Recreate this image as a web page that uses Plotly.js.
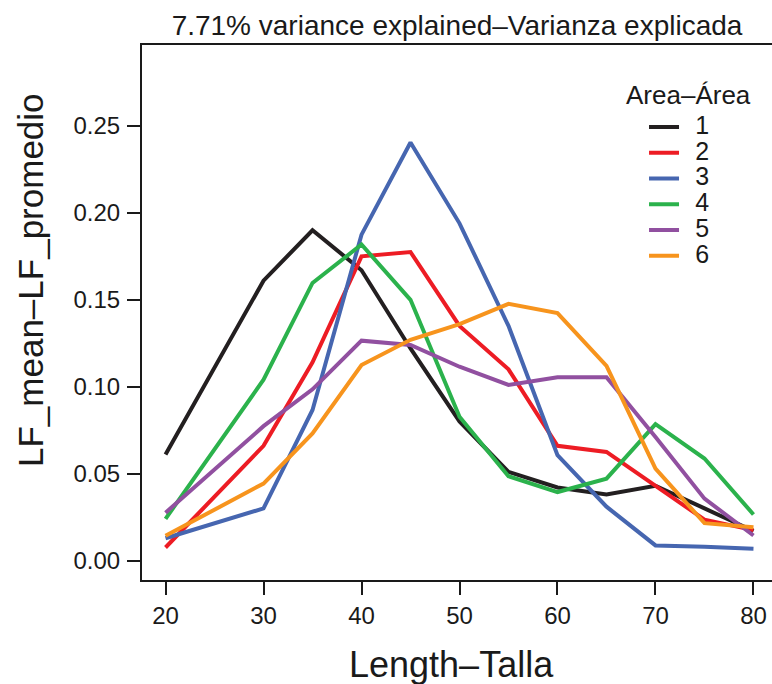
<!DOCTYPE html>
<html>
<head>
<meta charset="utf-8">
<script src="https://cdn.plot.ly/plotly-3.0.1.min.js"></script>
<style>
html, body { margin: 0; padding: 0; overflow: hidden; background: #ffffff; }
#chart { width: 780px; height: 684px; }
</style>
</head>
<body>
<div id="chart"></div>
<script>
var lengths = [20, 30, 35, 40, 45, 50, 55, 60, 65, 70, 75, 80];
var area1 = [0.061, 0.161, 0.190, 0.167, 0.122, 0.080, 0.051, 0.042, 0.038, 0.043, 0.030, 0.017];
var area2 = [0.0075, 0.066, 0.114, 0.175, 0.1775, 0.135, 0.110, 0.066, 0.0625, 0.043, 0.0235, 0.0175];
var area3 = [0.0128, 0.030, 0.0866, 0.1875, 0.2405, 0.194, 0.135, 0.0606, 0.031, 0.0087, 0.008, 0.0068];
var area4 = [0.024, 0.104, 0.1597, 0.1818, 0.150, 0.0827, 0.0485, 0.0394, 0.0471, 0.0785, 0.0587, 0.0265];
var area5 = [0.0275, 0.0773, 0.0985, 0.1265, 0.124, 0.1115, 0.101, 0.1054, 0.1054, 0.0711, 0.0356, 0.0144];
var area6 = [0.0142, 0.0443, 0.0731, 0.1125, 0.127, 0.136, 0.1477, 0.1424, 0.112, 0.0529, 0.0215, 0.0192];
var areaNames = ["1", "2", "3", "4", "5", "6"];
var areaColors = ["#231f20", "#ed1c24", "#4666b0", "#2bb24c", "#9150a0", "#f7941d"];
var seriesList = [area1, area2, area3, area4, area5, area6];

var yTickVals = [0, 0.05, 0.10, 0.15, 0.20, 0.25];
var yTickText = ["0.00", "0.05", "0.10", "0.15", "0.20", "0.25"];
var xTickVals = [20, 30, 40, 50, 60, 70, 80];

var titleText = "7.71% variance explained\u2013Varianza explicada";
var xTitle = "Length\u2013Talla";
var yTitle = "LF_mean\u2013LF_promedio";
var legendTitle = "Area\u2013\u00c1rea";

var FONT = "Liberation Sans, Arial, Helvetica, sans-serif";
var INK = "#1a1a1a";

var traces = seriesList.map(function (vals, i) {
  return {
    x: lengths,
    y: vals,
    type: "scatter",
    mode: "lines",
    name: '<span style="font-size:20px">\u00a0\u00a0</span><span style="font-size:25px">' + areaNames[i] + '</span>',
    line: { color: areaColors[i], width: 4 },
    hoverinfo: "skip"
  };
});

var layout = {
  width: 780,
  height: 684,
  paper_bgcolor: "#ffffff",
  plot_bgcolor: "#ffffff",
  margin: { l: 142, r: 3, t: 45, b: 104 },
  font: { family: FONT, color: INK },
  title: {
    text: titleText,
    font: { family: FONT, size: 28, color: INK },
    x: (457 - 142) / 635, xref: "paper", xanchor: "center",
    y: 1 - 25 / 684, yref: "container", yanchor: "middle"
  },
  xaxis: {
    range: [17.6, 82.4],
    tickvals: xTickVals,
    ticks: "outside", ticklen: 13, tickwidth: 2, tickcolor: INK,
    showline: true, linewidth: 2, linecolor: INK, mirror: true,
    showgrid: false, zeroline: false,
    tickfont: { family: FONT, size: 24, color: INK }
  },
  yaxis: {
    range: [-0.0112, 0.2966],
    tickvals: yTickVals,
    ticktext: yTickText,
    ticks: "outside", ticklen: 13, tickwidth: 2, tickcolor: INK,
    ticklabelstandoff: 2,
    showline: true, linewidth: 2, linecolor: INK, mirror: true,
    showgrid: false, zeroline: false,
    tickfont: { family: FONT, size: 24, color: INK }
  },
  showlegend: true,
  legend: {
    x: 0.7906, xanchor: "left",
    y: 0.88, yanchor: "top",
    bgcolor: "rgba(0,0,0,0)",
    borderwidth: 0,
    font: { family: FONT, size: 17.5, color: INK },
    itemclick: false, itemdoubleclick: false
  },
  annotations: [{
    text: legendTitle,
    xref: "paper", yref: "paper",
    x: (688 - 142) / 635, y: (580 - 95) / 535,
    xanchor: "center", yanchor: "middle",
    showarrow: false,
    font: { family: FONT, size: 26, color: INK }
  }, {
    text: yTitle,
    xref: "paper", yref: "paper",
    x: (30 - 142) / 635, y: (580 - 280) / 535,
    xanchor: "center", yanchor: "middle",
    textangle: -90,
    showarrow: false,
    font: { family: FONT, size: 35, color: INK }
  }, {
    text: xTitle,
    xref: "paper", yref: "paper",
    x: (451 - 142) / 635, y: (580 - 664) / 535,
    xanchor: "center", yanchor: "middle",
    showarrow: false,
    font: { family: FONT, size: 36, color: INK }
  }]
};

Plotly.newPlot("chart", traces, layout, { displayModeBar: false, staticPlot: true });
</script>
</body>
</html>
